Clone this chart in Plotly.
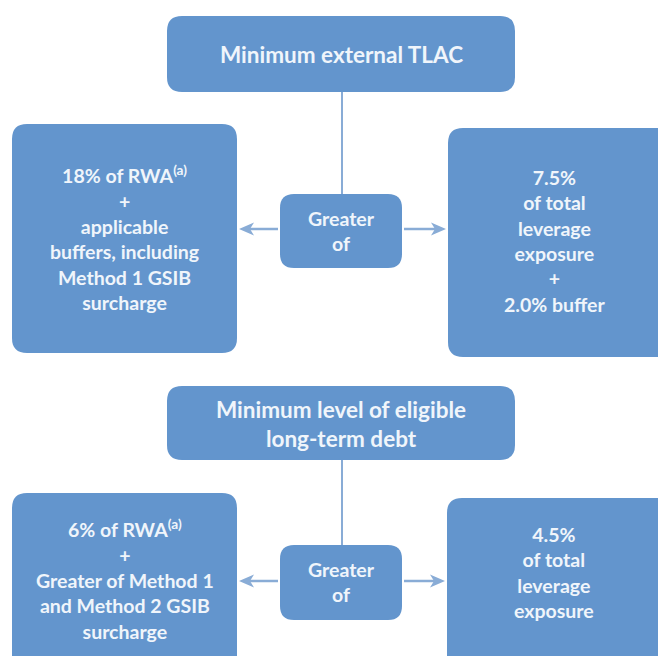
import plotly.graph_objects as go

# ---- diagram content ----
top_titles = ["Minimum external TLAC", "Minimum level of eligible<br>long-term debt"]
left_texts = [
    "18% of RWA<sup>(a)</sup><br>+<br>applicable<br>buffers, including<br>Method 1 GSIB<br>surcharge",
    "6% of RWA<sup>(a)</sup><br>+<br>Greater of Method 1<br>and Method 2 GSIB<br>surcharge",
]
right_texts = [
    "7.5%<br>of total<br>leverage<br>exposure<br>+<br>2.0% buffer",
    "4.5%<br>of total<br>leverage<br>exposure",
]
middle_texts = ["Greater<br>of", "Greater<br>of"]

# ---- styling / layout ----
W, H = 658, 656
BOX = "rgb(99,149,205)"
LINE = "rgb(137,172,214)"
TXT = "rgb(240,245,251)"
FONT = "Lato"
BODY_SIZE = 19.5
TITLE_SIZE = 22.5

def rr(x0, y0, x1, y1, r):
    return (f"M{x0+r},{y0} L{x1-r},{y0} Q{x1},{y0} {x1},{y0+r} "
            f"L{x1},{y1-r} Q{x1},{y1} {x1-r},{y1} L{x0+r},{y1} "
            f"Q{x0},{y1} {x0},{y1-r} L{x0},{y0+r} Q{x0},{y0} {x0+r},{y0} Z")

def head(tip_x, y, direction):
    d = direction  # +1 points right, -1 points left
    L, half, notch = 15, 6.5, 11
    return (f"M{tip_x},{y} L{tip_x - d*L},{y - half} L{tip_x - d*notch},{y} "
            f"L{tip_x - d*L},{y + half} Z")

sections = [
    dict(top=(167, 16, 515, 92), left=(12, 124, 237, 353), right=(448, 128, 672, 357),
         mid=(280, 194, 402, 268), arrow_y=229,
         text_y=dict(top=54, left=238, right=241, mid=231), right_x=554),
    dict(top=(167, 386, 515, 460), left=(12, 493, 237, 672), right=(447, 498, 672, 672),
         mid=(280, 545, 402, 620), arrow_y=581,
         text_y=dict(top=424, left=579, right=572, mid=582), right_x=554),
]

shapes, annotations = [], []
for i, s in enumerate(sections):
    tx0, ty0, tx1, ty1 = s["top"]
    mx0, my0, mx1, my1 = s["mid"]
    cx = (mx0 + mx1) / 2
    ay = s["arrow_y"]
    shapes.append(dict(type="line", x0=cx + 1, x1=cx + 1, y0=ty1, y1=my0,
                       line=dict(color=LINE, width=2), layer="below"))
    shapes.append(dict(type="line", x0=mx0 - 2, x1=s["left"][2] + 12, y0=ay, y1=ay,
                       line=dict(color=LINE, width=2.5), layer="below"))
    shapes.append(dict(type="line", x0=mx1 + 2, x1=s["right"][0] - 12, y0=ay, y1=ay,
                       line=dict(color=LINE, width=2.5), layer="below"))
    shapes.append(dict(type="path", path=head(s["left"][2] + 2, ay, -1),
                       fillcolor=LINE, line=dict(width=0), layer="below"))
    shapes.append(dict(type="path", path=head(s["right"][0] - 2, ay, 1),
                       fillcolor=LINE, line=dict(width=0), layer="below"))
    for key in ["top", "left", "right", "mid"]:
        x0, y0, x1, y1 = s[key]
        shapes.append(dict(type="path", path=rr(x0, y0, x1, y1, 15 if key != "mid" else 14),
                           fillcolor=BOX, line=dict(width=0), layer="above"))
    texts = [("top", top_titles[i], TITLE_SIZE), ("left", left_texts[i], BODY_SIZE),
             ("right", right_texts[i], BODY_SIZE), ("mid", middle_texts[i], BODY_SIZE)]
    for key, t, fs in texts:
        x0, y0, x1, y1 = s[key]
        px = s["right_x"] if key == "right" else (x0 + x1) / 2
        py = s["text_y"][key]
        annotations.append(dict(x=px, y=py, xref="x", yref="y", text=f"<b>{t}</b>", showarrow=False,
                                font=dict(family=FONT, size=fs, color=TXT), align="center"))

fig = go.Figure()
fig.update_layout(
    width=W, height=H, margin=dict(l=0, r=0, t=0, b=0),
    paper_bgcolor="white", plot_bgcolor="white",
    xaxis=dict(range=[0, W], visible=False, fixedrange=True),
    yaxis=dict(range=[H, 0], visible=False, fixedrange=True),
    shapes=shapes, annotations=annotations, showlegend=False,
)
fig.write_html("out.html", config={"displayModeBar": False},
               post_script="document.body.style.margin='0';document.body.style.overflow='hidden';")
